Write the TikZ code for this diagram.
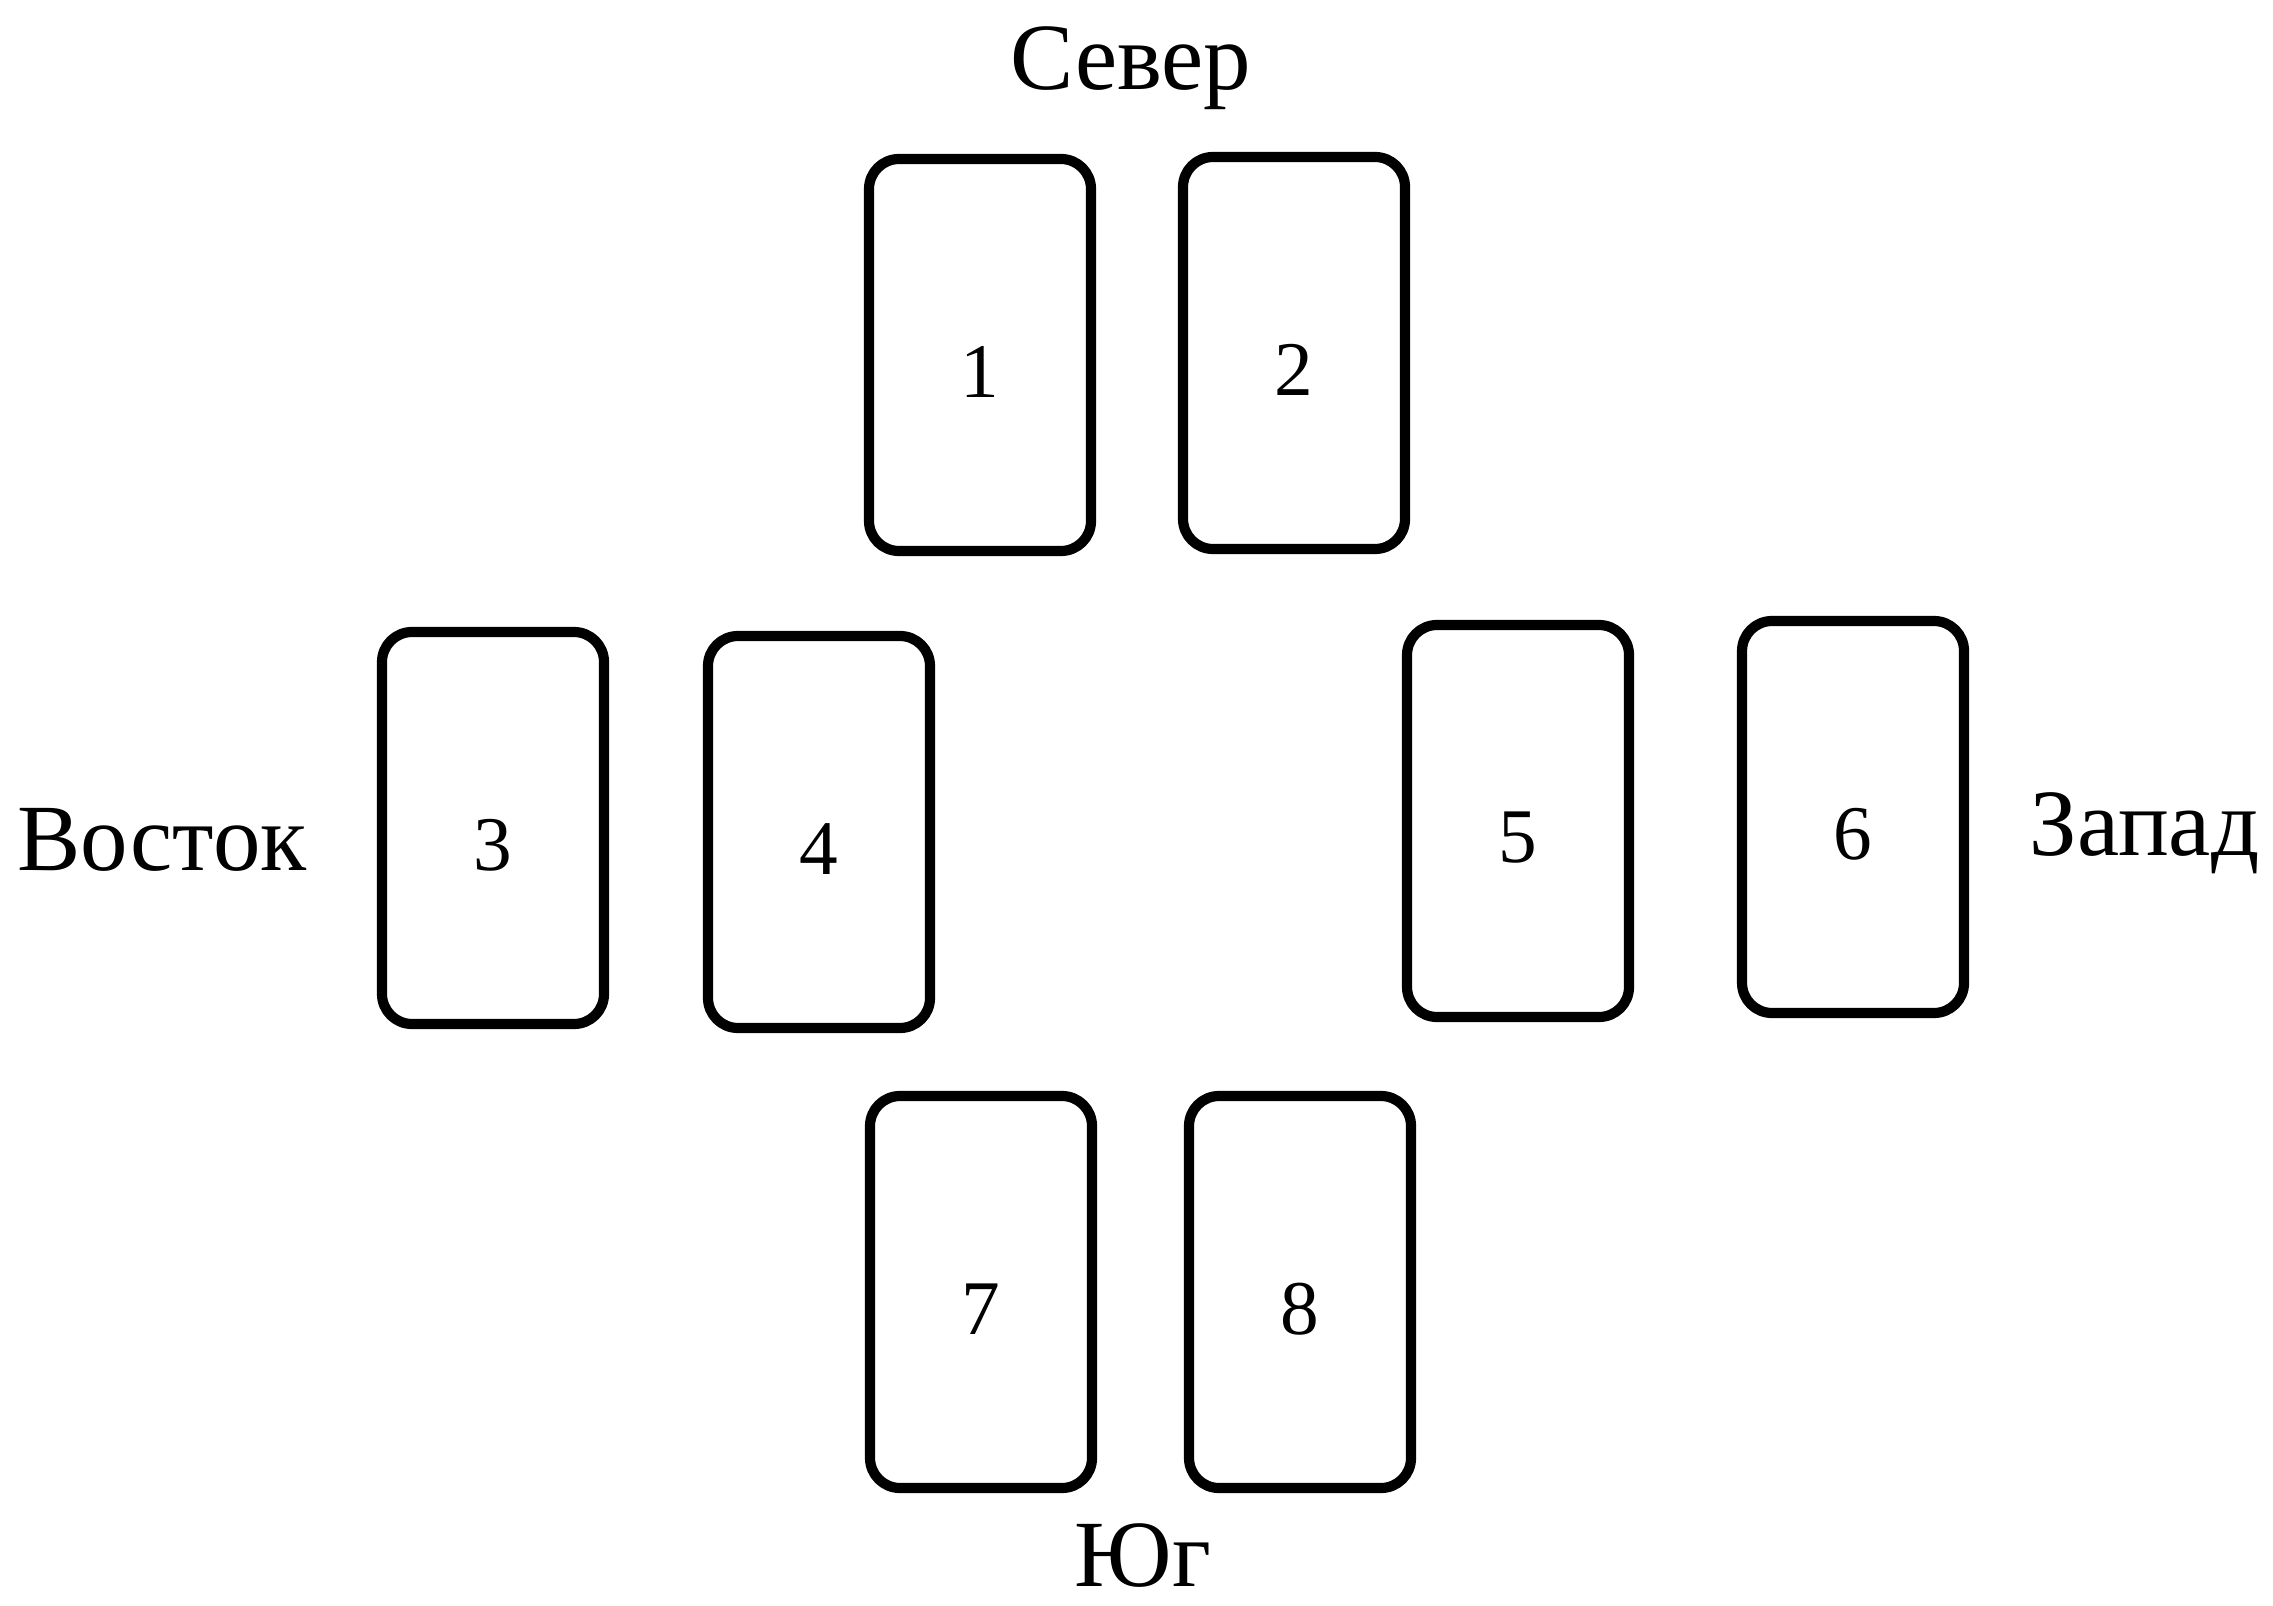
\documentclass[tikz,border=0pt]{standalone}
\usepackage{fontspec}
\setmainfont{Liberation Serif}
\begin{document}
\begin{tikzpicture}[
    card/.style={draw,line width=2.9pt,rounded corners=0.3cm,minimum width=2.22cm,minimum height=3.92cm,inner sep=0pt},
    num/.style={font=\fontsize{22}{26}\selectfont},
    side/.style={inner sep=0pt,font=\fontsize{27}{32}\selectfont}]
    \useasboundingbox (0,0) rectangle (22.73,-16.06);
    \foreach \n/\x/\y in {1/9.80/-3.55, 2/12.94/-3.53, 3/4.93/-8.28, 4/8.19/-8.32, 5/15.18/-8.21, 6/18.53/-8.17, 7/9.81/-12.92, 8/13.00/-12.92}
    {
        \node[card] (c\n) at (\x,\y) {};
        \node[num] (n\n) at ([yshift=-0.17cm]c\n.center) {\n};
    }
    \node[side,anchor=base] (north) at (11.31,-0.90) {Север};
    \node[side,anchor=base west] (east) at (0.17,-8.70) {Восток};
    \node[side,anchor=base east] (west) at (22.60,-8.55) {Запад};
    \node[side,anchor=base] (south) at (11.43,-15.86) {Юг};
\end{tikzpicture}
\end{document}
